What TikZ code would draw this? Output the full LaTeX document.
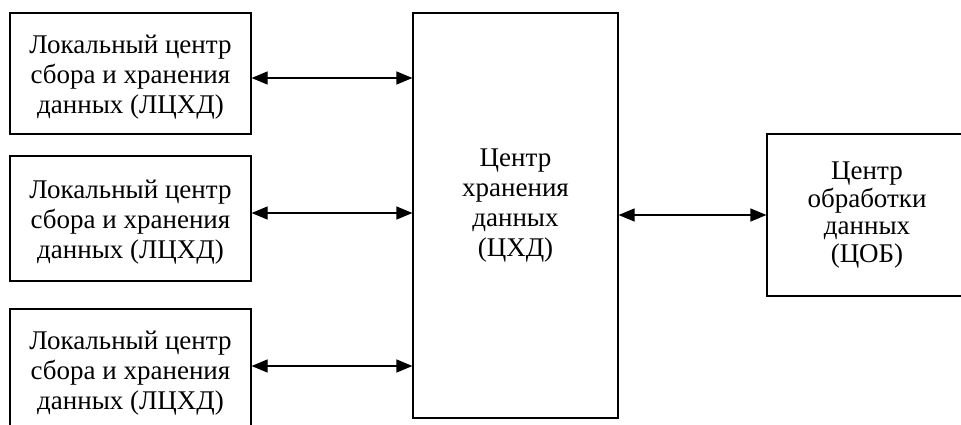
\documentclass[tikz,border=0pt]{standalone}
\usepackage{fontspec}
\setmainfont{Liberation Serif}
\newfontfamily\tnrfont{Liberation Serif}
\usetikzlibrary{arrows.meta, positioning}

\tikzset{
  blk/.style={draw, line width=1.2pt, align=center, inner sep=0pt, font=\tnrfont\fontsize{27}{30}\selectfont},
  lcbox/.style={blk, minimum width=241pt, text height=85pt},
  conn/.style={{Triangle[length=16pt,width=13pt]}-{Triangle[length=16pt,width=13pt]}, line width=1.2pt}
}

\begin{document}
\begin{tikzpicture}[x=1pt,y=-1pt]
\useasboundingbox (0,0) rectangle (961,424);

% local centres
\node[lcbox, minimum height=121pt] (lc1) at (130.5,73.5) {Локальный центр\\сбора и хранения\\данных (ЛЦХД)};
\node[lcbox, minimum height=125pt] (lc2) at (130.5,218.5) {Локальный центр\\сбора и хранения\\данных (ЛЦХД)};
\node[lcbox, minimum height=121pt] (lc3) at (130.5,369.5) {Локальный центр\\сбора и хранения\\данных (ЛЦХД)};

% storage centre
\node[blk, minimum width=205pt, minimum height=405pt, text depth=26pt] (chd) at (515.5,215.5) {Центр\\хранения\\данных\\(ЦХД)};

% processing centre
\node[blk, minimum width=200pt, minimum height=162pt, font=\tnrfont\fontsize{27}{27.5}\selectfont] (cob) at (867,215) {Центр\\обработки\\данных\\(ЦОБ)};

% links
\coordinate (a1) at ([yshift=-4.5pt]lc1.east);
\coordinate (a2) at ([yshift=5.5pt]lc2.east);
\coordinate (a3) at ([yshift=3.5pt]lc3.east);
\draw[conn] (a1) -- (a1 -| chd.west);
\draw[conn] (a2) -- (a2 -| chd.west);
\draw[conn] (a3) -- (a3 -| chd.west);
\draw[conn] (chd.east |- cob.west) -- (cob.west);
\end{tikzpicture}
\end{document}
